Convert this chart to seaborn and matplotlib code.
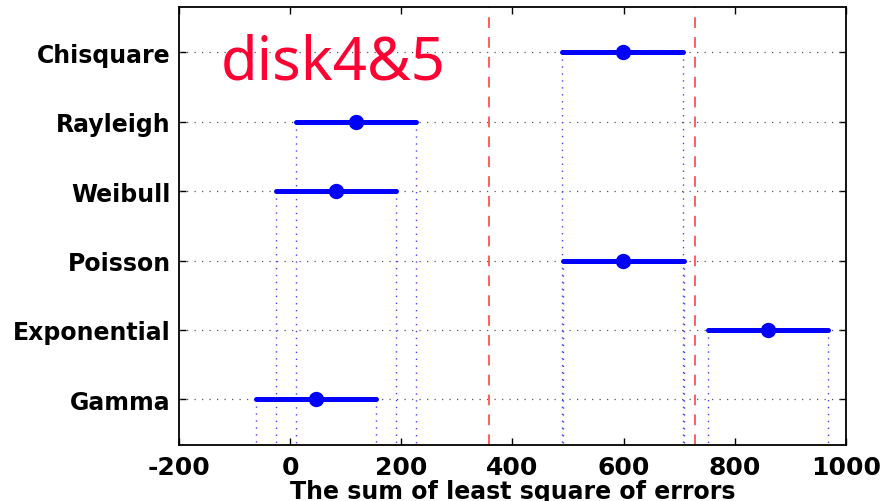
import matplotlib
matplotlib.use("Agg")
import matplotlib.pyplot as plt
import seaborn as sns
import pandas as pd
import numpy as np

# Data
categories = ["Chisquare", "Rayleigh", "Weibull", "Poisson", "Exponential", "Gamma"]
lower = [489, 10, -26, 490, 751, -61]
center = [598, 118, 82, 599, 859, 47]
upper = [707, 227, 191, 708, 968, 155]
ref_lines = [358, 729]
xticks = [-200, 0, 200, 400, 600, 800, 1000]

rows = []
for c, lo, ce, hi in zip(categories, lower, center, upper):
    for v in (lo, ce, hi):
        rows.append({"dist": c, "value": v})
df = pd.DataFrame(rows)

sns.set_theme(style="white")
plt.rcParams["font.family"] = ["DejaVu Sans"]

fig = plt.figure(figsize=(8.84, 5.02), dpi=100)
ax = fig.add_axes([0.2025, 0.1116, 0.7545, 0.8724])

# horizontal grid lines
for i in range(len(categories)):
    ax.axhline(i, color="#555555", linestyle=(0, (1, 5)), linewidth=0.9, zorder=1)

# vertical dotted lines from each interval down to the bottom
ybot = 5.66
for i, (lo, hi) in enumerate(zip(lower, upper)):
    ax.vlines([lo, hi], i, ybot, colors="#4444ff", linestyles=(0, (1, 4)), linewidth=1.0, zorder=1)

for r in ref_lines:
    ax.axvline(r, color="#ff3333", linestyle=(0, (7, 6)), linewidth=1.1, zorder=2)

sns.pointplot(data=df, x="value", y="dist", order=categories, orient="h",
              estimator="median", errorbar=("pi", 100), color="#0000ff",
              linestyle="none", markers="o", markersize=9,
              err_kws={"linewidth": 3.6, "color": "#0000ff"}, ax=ax, zorder=3)

ax.set_xlim(-200, 1000)
ax.set_ylim(ybot, -0.655)
ax.set_xticks(xticks)
ax.set_xticklabels([str(t) for t in xticks], fontsize=18, fontweight="bold")
ax.set_yticks(range(len(categories)))
ax.set_yticklabels(categories, fontsize=17, fontweight="bold")
ax.set_ylabel("")
ax.set_xlabel("The sum of least square of errors", fontsize=17, fontweight="bold",
              labelpad=0, color="black")
ax.tick_params(axis="both", direction="in", length=5, width=1, color="black",
               top=True, right=True, bottom=True, left=True, pad=6, labelcolor="black")
ax.tick_params(axis="x", pad=7)
for s in ax.spines.values():
    s.set_visible(True)
    s.set_color("black")
    s.set_linewidth(1.3)
ax.grid(False)

ax.text(-125, 0.38, "disk4&5", color="#ff0033", fontsize=43, family=["Noto Sans"],
        fontweight="medium", ha="left", va="baseline", zorder=4)

fig.savefig("out.png", dpi=100, facecolor="white")
